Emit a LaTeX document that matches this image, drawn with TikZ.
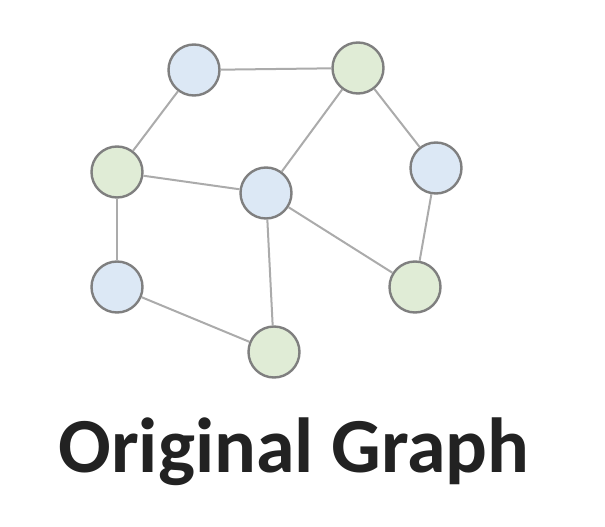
\documentclass[tikz,border=0pt]{standalone}
\usepackage{fontspec}
\setmainfont{Carlito}
\usetikzlibrary{calc}

\definecolor{vblue}{HTML}{DCE8F5}
\definecolor{vgreen}{HTML}{E0ECD6}
\definecolor{vrim}{HTML}{7F7F7F}
\definecolor{vedge}{HTML}{ABABAB}
\definecolor{vtext}{HTML}{222222}

\begin{document}
\begin{tikzpicture}[
     x=1pt,y=-1pt,
     vtx/.style={circle,draw=vrim,line width=2.4pt,minimum size=51pt,inner sep=0pt},
     bvtx/.style={vtx,fill=vblue},
     gvtx/.style={vtx,fill=vgreen},
     link/.style={draw=vedge,line width=2pt}
   ]
   \path[use as bounding box] (0,0) rectangle (605,527);
   % Vertices.
   \node[bvtx] (a) at (194,70) {};
   \node[gvtx] (b) at (358,68) {};
   \node[gvtx] (c) at (117,172) {};
   \node[bvtx] (d) at (436,168) {};
   \node[bvtx] (e) at (266,193) {};
   \node[bvtx] (f) at (117,287) {};
   \node[gvtx] (g) at (415,287) {};
   \node[gvtx] (h) at (274,352) {};
   % Edges.
   \foreach \u/\v in {a/b,a/c,b/e,b/d,c/e,c/f,e/g,e/h,d/g,f/h}
     \path[link] (\u) -- (\v);
   % Caption.
   \node[text=vtext,font=\fontsize{78}{94}\selectfont\bfseries] (title) at (294,452) {Original Graph};
 \end{tikzpicture}
\end{document}
